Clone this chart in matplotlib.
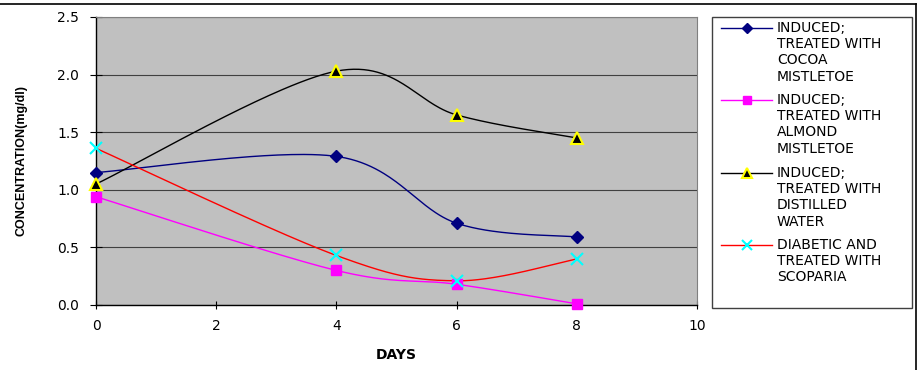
import numpy as np
import matplotlib
matplotlib.use("Agg")
import matplotlib.pyplot as plt
from matplotlib.lines import Line2D
from matplotlib.patches import Rectangle

# ---------------- data ----------------
days = [0, 4, 6, 8]
cocoa = [1.15, 1.29, 0.71, 0.59]
almond = [0.94, 0.30, 0.18, 0.01]
water = [1.05, 2.03, 1.65, 1.45]
scoparia = [1.36, 0.43, 0.21, 0.40]

series_labels = [
    "INDUCED;\nTREATED WITH\nCOCOA\nMISTLETOE",
    "INDUCED;\nTREATED WITH\nALMOND\nMISTLETOE",
    "INDUCED;\nTREATED WITH\nDISTILLED\nWATER",
    "DIABETIC AND\nTREATED WITH\nSCOPARIA",
]
x_ticks = [0, 2, 4, 6, 8, 10]
y_ticks = [0.0, 0.5, 1.0, 1.5, 2.0, 2.5]
x_label = "DAYS"
y_label = "CONCENTRATION(mg/dl)"

plt.rcParams["font.family"] = ["DejaVu Sans"]

W, H = 922, 370
fig = plt.figure(figsize=(W / 100, H / 100), dpi=100)


def fx(px):
    return px / W


def fy(py):
    return 1 - py / H


ax = fig.add_axes([fx(96), fy(305), fx(697) - fx(96), fy(17) - fy(305)])
ax.set_facecolor("#C0C0C0")


def excel_smooth(x, y, n=60):
    x = np.asarray(x, float)
    y = np.asarray(y, float)
    P = np.column_stack([x, y])
    Pext = np.vstack([P[0], P, P[-1]])
    t = np.linspace(0, 1, n)[:, None]
    out = []
    for i in range(len(P) - 1):
        p0, p3 = P[i], P[i + 1]
        prev, nxt = Pext[i], Pext[i + 3]
        c1 = p0 + (p3 - prev) / 6
        c2 = p3 - (nxt - p0) / 6
        seg = ((1 - t) ** 3) * p0 + 3 * ((1 - t) ** 2) * t * c1 + 3 * (1 - t) * t ** 2 * c2 + t ** 3 * p3
        out.append(seg if i == 0 else seg[1:])
    out = np.vstack(out)
    return out[:, 0], out[:, 1]


styles = [
    dict(line="#000080", marker="D", mfc="#000080", mec="#000080", ms=6, mew=1),
    dict(line="#FF00FF", marker="s", mfc="#FF00FF", mec="#FF00FF", ms=7, mew=1),
    dict(line="#000000", marker="^", mfc="#000000", mec="#FFFF00", ms=8, mew=1.5),
    dict(line="#FF0000", marker="x", mfc="#00FFFF", mec="#00FFFF", ms=8, mew=1.5),
]
series = [cocoa, almond, water, scoparia]

for vals, st in zip(series, styles):
    sx, sy = excel_smooth(days, vals)
    ax.plot(sx, sy, color=st["line"], lw=1.0, zorder=3)
    ax.plot(days, vals, ls="none", marker=st["marker"], ms=st["ms"],
            mfc=st["mfc"], mec=st["mec"], mew=st["mew"], zorder=4, clip_on=False)

ax.set_xlim(0, 10)
ax.set_ylim(0, 2.5)
ax.set_xticks(x_ticks)
ax.set_yticks(y_ticks)
ax.set_yticklabels([f"{v:.1f}" for v in y_ticks])
ax.yaxis.grid(True, color="#404040", lw=0.8)
ax.set_axisbelow(True)
ax.tick_params(axis="y", direction="inout", length=8, width=0.8, labelsize=10, pad=8)
ax.tick_params(axis="x", direction="inout", length=6, width=0.8, labelsize=10, pad=7)
for s in ["left", "bottom"]:
    ax.spines[s].set_color("black")
    ax.spines[s].set_linewidth(1.0)
for s in ["top", "right"]:
    ax.spines[s].set_color("#808080")
    ax.spines[s].set_linewidth(0.8)

ax.set_xlabel(x_label, fontweight="bold", fontsize=10)
ax.xaxis.set_label_coords(0.5, (305 - 348) / 288)
ax.set_ylabel(y_label, fontweight="bold", fontsize=9, family=["Liberation Sans"])
ax.yaxis.set_label_coords((28 - 96) / 601, 0.5)

# ---------------- legend (Excel style: handle next to first line) ----------------
fig.add_artist(Rectangle((fx(712), fy(308)), fx(912) - fx(712), fy(17) - fy(308),
                         transform=fig.transFigure, facecolor="white",
                         edgecolor="#404040", lw=1.0))
entry_y = [28, 100, 173, 245]
for lab, st, ey in zip(series_labels, styles, entry_y):
    fig.add_artist(Line2D([fx(721), fx(772)], [fy(ey), fy(ey)], color=st["line"], lw=1.0,
                          transform=fig.transFigure))
    fig.add_artist(Line2D([fx(746.5)], [fy(ey)], ls="none", marker=st["marker"],
                          ms=st["ms"] - 1, mfc=st["mfc"], mec=st["mec"], mew=st["mew"],
                          transform=fig.transFigure))
    fig.text(fx(777), fy(ey - 7), lab, ha="left", va="top", fontsize=10,
             linespacing=1.2)

# ---------------- outer frame (top and right edges) ----------------
fig.add_artist(Line2D([0, fx(916)], [fy(4), fy(4)], color="black", lw=1.2,
                      transform=fig.transFigure))
fig.add_artist(Line2D([fx(916), fx(916)], [fy(4), 0], color="black", lw=1.2,
                      transform=fig.transFigure))

fig.savefig("out.png", dpi=100)
